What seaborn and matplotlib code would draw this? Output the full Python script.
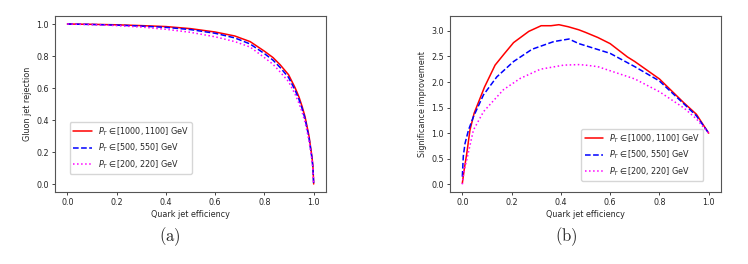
import numpy as np
import pandas as pd
import matplotlib
matplotlib.use("Agg")
import matplotlib.pyplot as plt
import seaborn as sns

# ROC-style curves (panel a)
roc_eff = [0.0, 0.1, 0.2, 0.3, 0.4, 0.5, 0.6, 0.68, 0.742, 0.8, 0.835, 0.864, 0.898, 0.925, 0.94, 0.953, 0.965, 0.973, 0.981, 0.987, 0.993, 0.997, 1.0]
rej_1000 = [1.0, 0.998, 0.995, 0.99, 0.984, 0.971, 0.95, 0.925, 0.89, 0.83, 0.79, 0.745, 0.683, 0.60, 0.545, 0.485, 0.42, 0.36, 0.30, 0.235, 0.17, 0.11, 0.0]
rej_500 = [1.0, 0.997, 0.993, 0.987, 0.979, 0.965, 0.942, 0.913, 0.875, 0.815, 0.774, 0.728, 0.666, 0.585, 0.53, 0.472, 0.408, 0.348, 0.29, 0.225, 0.162, 0.10, 0.0]
rej_200 = [1.0, 0.996, 0.99, 0.981, 0.967, 0.948, 0.92, 0.89, 0.856, 0.79, 0.748, 0.70, 0.64, 0.56, 0.505, 0.45, 0.385, 0.33, 0.27, 0.21, 0.15, 0.09, 0.0]

# significance improvement curves (panel b)
sig_eff_1000 = [0.0, 0.008, 0.018, 0.031, 0.048, 0.09, 0.133, 0.17, 0.208, 0.27, 0.32, 0.36, 0.392, 0.43, 0.473, 0.5, 0.55, 0.6, 0.67, 0.7, 0.8, 0.9, 0.95, 1.0]
sig_1000 = [0.02, 0.3, 0.6, 1.06, 1.39, 1.9, 2.33, 2.55, 2.77, 2.99, 3.1, 3.1, 3.12, 3.08, 3.02, 2.97, 2.87, 2.75, 2.49, 2.4, 2.06, 1.59, 1.37, 1.0]
sig_eff_500 = [0.0, 0.004, 0.011, 0.025, 0.045, 0.086, 0.14, 0.208, 0.283, 0.371, 0.433, 0.473, 0.5, 0.6, 0.7, 0.8, 0.9, 0.95, 1.0]
sig_500 = [0.15, 0.55, 0.8, 1.06, 1.32, 1.75, 2.1, 2.4, 2.64, 2.79, 2.84, 2.75, 2.71, 2.56, 2.3, 2.02, 1.57, 1.34, 1.0]
sig_eff_200 = [0.0, 0.006, 0.018, 0.045, 0.086, 0.167, 0.235, 0.317, 0.412, 0.473, 0.5, 0.55, 0.6, 0.7, 0.8, 0.9, 0.95, 1.0]
sig_200 = [0.0, 0.25, 0.48, 1.06, 1.42, 1.85, 2.07, 2.25, 2.33, 2.34, 2.33, 2.3, 2.22, 2.06, 1.81, 1.49, 1.28, 1.0]

labels = [r"$P_T \in [1000, 1100]$ GeV", r"$P_T \in [500, 550]$ GeV", r"$P_T \in [200, 220]$ GeV"]
colors = ["red", "blue", "magenta"]
styles = ["-", "--", ":"]

sns.set_style("ticks")
plt.rcParams["font.family"] = ["DejaVu Sans"]
plt.rcParams["mathtext.fontset"] = "dejavusans"
plt.rcParams["axes.edgecolor"] = "#555555"

fig = plt.figure(figsize=(7.48, 2.64), dpi=100)
ax1 = fig.add_axes([55 / 748, 1 - 192 / 264, 271 / 748, 176 / 264])
ax2 = fig.add_axes([450 / 748, 1 - 192 / 264, 271 / 748, 176 / 264])

fs = 5.8

for ys, lab, c, ls in zip([rej_1000, rej_500, rej_200], labels, colors, styles):
    sns.lineplot(x=roc_eff, y=ys, ax=ax1, color=c, linestyle=ls, linewidth=1.1, label=lab)

for xs, ys, lab, c, ls in zip([sig_eff_1000, sig_eff_500, sig_eff_200], [sig_1000, sig_500, sig_200], labels, colors, styles):
    sns.lineplot(x=xs, y=ys, ax=ax2, color=c, linestyle=ls, linewidth=1.1, label=lab)

ax1.set_xlabel("Quark jet efficiency", fontsize=fs, labelpad=2)
ax1.set_ylabel("Gluon jet rejection", fontsize=fs, labelpad=3)
ax2.set_xlabel("Quark jet efficiency", fontsize=fs, labelpad=2)
ax2.set_ylabel("Significance improvement", fontsize=fs, labelpad=3)

ax1.set_xticks(np.arange(0, 1.01, 0.2))
ax1.set_yticks(np.arange(0, 1.01, 0.2))
ax2.set_xticks(np.arange(0, 1.01, 0.2))
ax2.set_yticks(np.arange(0, 3.01, 0.5))
ax1.set_ylim(-0.05, 1.05)
ax2.set_ylim(-0.15, 3.29)

for ax in (ax1, ax2):
    ax.set_xlim(-0.05, 1.05)
    ax.tick_params(labelsize=fs, length=2.5, width=0.6, pad=2)
    for sp in ax.spines.values():
        sp.set_linewidth(0.8)

ax1.legend(loc="lower left", bbox_to_anchor=(0.04, 0.08), fontsize=fs, frameon=True, handlelength=2.3)
ax2.legend(loc="lower right", bbox_to_anchor=(0.95, 0.04), fontsize=fs, frameon=True, handlelength=2.3)

fig.text(170 / 748, 1 - 237 / 264, r"$\mathrm{(a)}$", math_fontfamily="cm", fontsize=12, ha="center", va="center")
fig.text(566 / 748, 1 - 237 / 264, r"$\mathrm{(b)}$", math_fontfamily="cm", fontsize=12, ha="center", va="center")

fig.savefig("out.png", dpi=100)
